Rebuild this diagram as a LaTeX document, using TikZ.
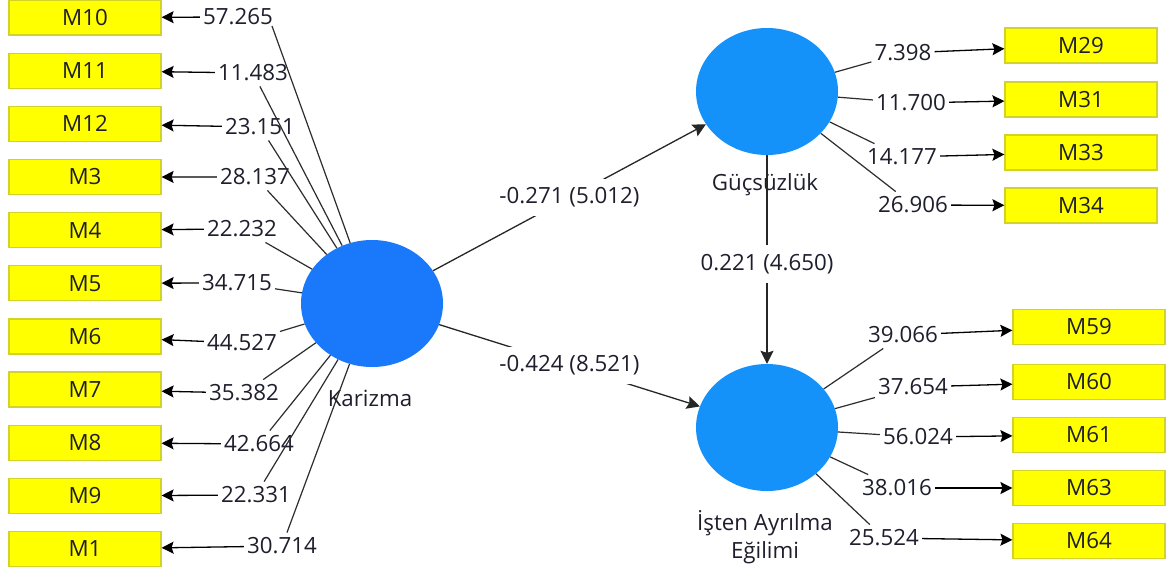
\documentclass[tikz,border=0pt]{standalone}
\usepackage{fontspec}
\setmainfont{Open Sans}
\usetikzlibrary{arrows.meta,shapes.geometric}
\definecolor{kblue}{RGB}{26,120,250}
\definecolor{cblue}{RGB}{21,146,250}
\definecolor{boxyellow}{RGB}{255,255,0}
\definecolor{boxedge}{RGB}{210,210,40}
\definecolor{txt}{RGB}{30,30,45}
\definecolor{lnk}{RGB}{45,45,45}
\newcommand\labfont{\fontsize{22.3}{28}\selectfont}
\tikzset{
  ind/.style={draw=boxedge, fill=boxyellow, line width=1.2pt, minimum width=152pt,
    minimum height=35pt, inner sep=0pt, font=\labfont, text=txt},
  lv/.style={ellipse, minimum width=142pt, minimum height=127pt, inner sep=0pt},
  num/.style={font=\labfont, text=txt, inner xsep=3pt, inner ysep=5pt},
  cname/.style={font=\labfont, text=txt, align=center, inner sep=0pt},
  load/.style={draw=lnk, line width=1.2pt},
  toind/.style={draw=black, line width=1.3pt, -{Stealth[length=12pt,width=12pt,inset=2pt]}},
  pth/.style={draw=black!85, line width=1.3pt, -{Stealth[length=13pt,width=13pt,inset=2pt]}},
  pathlab/.style={font=\labfont, text=txt, fill=white, inner xsep=1pt, inner ysep=9pt}
}
\begin{document}
\begin{tikzpicture}[x=1pt,y=-1pt]
\useasboundingbox (0,0) rectangle (1166,571);
\fill[white] (0,0) rectangle (1166,571);
% constructs
\node[lv, fill=kblue] (K) at (372,303.5) {};
\node[lv, fill=cblue] (G) at (767,91.5) {};
\node[lv, fill=cblue] (I) at (767,427.5) {};
\node[cname] (Kn) at (370,398) {Karizma};
\node[cname] (Gn) at (765,185) {Güçsüzlük};
\node[cname] (In) at (765,537) {İşten Ayrılma\\Eğilimi};
% left indicators
\foreach \nm/\i in {M10/0,M11/1,M12/2,M3/3,M4/4,M5/5,M6/6,M7/7,M8/8,M9/9,M1/10}{
  \node[ind] (b\nm) at (85,17.5+53.15*\i) {\nm};
}
\foreach \nm/\v/\x/\y in {M10/57.265/238/17, M11/11.483/253/73, M12/23.151/260/127,
  M3/28.137/255/177, M4/22.232/242/229, M5/34.715/237/283, M6/44.527/242/343,
  M7/35.382/244/393, M8/42.664/259/444, M9/22.331/256/495, M1/30.714/282/546}{
  \node[num] (l\nm) at (\x,\y) {\v};
  \draw[toind] (l\nm) -- (b\nm);
}
\coordinate (s10) at (272,26);
\draw[load] (s10) -- (K);
\foreach \nm in {M11,M12,M3,M4,M5,M6,M7,M8,M9,M1}{
  \draw[load] (l\nm) -- (K);
}
% right upper indicators
\foreach \nm/\v/\x/\y/\by in {M29/7.398/903/53/45.5, M31/11.700/911/103/99.5,
  M33/14.177/902/157/152.5, M34/26.906/913/205/205.5}{
  \node[ind] (b\nm) at (1081,\by) {\nm};
  \node[num] (l\nm) at (\x,\y) {\v};
  \draw[load] (G) -- (l\nm);
  \draw[toind] (l\nm) -- (b\nm);
}
% right lower indicators
\foreach \nm/\v/\x/\y/\by in {M59/39.066/903/335/327, M60/37.654/913/387/382,
  M61/56.024/918/437/435, M63/38.016/897/488/488, M64/25.524/884/538/541}{
  \node[ind] (b\nm) at (1089,\by) {\nm};
  \node[num] (l\nm) at (\x,\y) {\v};
  \draw[load] (I) -- (l\nm);
  \draw[toind] (l\nm) -- (b\nm);
}
% structural paths
\draw[pth] (K) -- node[pathlab] {-0.271 (5.012)} (G);
\draw[pth] (K) -- node[pathlab] {-0.424 (8.521)} (I);
\draw[pth] (G) -- node[pathlab, pos=0.52] {0.221 (4.650)} (I);
\end{tikzpicture}
\end{document}
